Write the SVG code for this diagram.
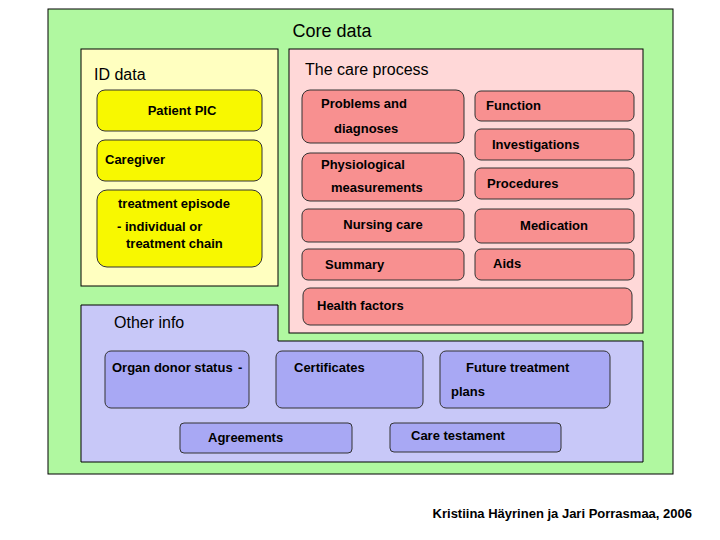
<svg xmlns="http://www.w3.org/2000/svg" width="720" height="540" viewBox="0 0 720 540">
<style>
text{font-family:"Liberation Sans",Arial,sans-serif;font-weight:bold;font-size:13px;fill:#000}
.big{font-size:16px;font-weight:normal}
.pan{stroke:#000;stroke-width:1}
.y{fill:#F8F800;stroke:#333;stroke-width:1}
.p{fill:#F89090;stroke:#333;stroke-width:1}
.b{fill:#A8A8F4;stroke:#333;stroke-width:1}
</style>
<rect width="720" height="540" fill="#fff"/>
<g id="core"><rect class="pan" x="48" y="9" width="625" height="465" fill="#B0F8A0"/><text class="big" x="332" y="37" text-anchor="middle" style="font-size:18px">Core data</text></g>
<g id="idpanel"><rect class="pan" x="81" y="49" width="197" height="237" fill="#FFFFC0"/><text class="big" x="94" y="80">ID data</text></g>
<g id="carepanel"><rect class="pan" x="289" y="49" width="354" height="284" fill="#FFD8D8"/><text class="big" x="305" y="75">The care process</text></g>
<g id="otherpanel"><path class="pan" d="M81,305 H278 V341 H643 V462 H81 Z" fill="#C8C8F8"/><text class="big" x="114" y="328">Other info</text></g>
<g id="n-pic"><rect class="y" x="97" y="90" width="165" height="41" rx="8"/><text x="182" y="115" text-anchor="middle">Patient PIC</text></g>
<g id="n-caregiver"><rect class="y" x="97" y="140" width="165" height="41" rx="8"/><text x="105" y="164">Caregiver</text></g>
<g id="n-episode"><rect class="y" x="97" y="190" width="165" height="77" rx="10"/><text x="118" y="208">treatment episode</text><text x="117" y="231">- individual or</text><text x="126" y="248">treatment chain</text></g>
<g id="n-problems"><rect class="p" x="302" y="90" width="162" height="53" rx="8"/><text x="321" y="108">Problems and</text><text x="334" y="133">diagnoses</text></g>
<g id="n-function"><rect class="p" x="475" y="91" width="159" height="30" rx="6"/><text x="486" y="110">Function</text></g>
<g id="n-invest"><rect class="p" x="475" y="129" width="159" height="31" rx="6"/><text x="492" y="149">Investigations</text></g>
<g id="n-physio"><rect class="p" x="302" y="153" width="162" height="48" rx="8"/><text x="321" y="169">Physiological</text><text x="331" y="192">measurements</text></g>
<g id="n-proc"><rect class="p" x="475" y="168" width="159" height="31" rx="6"/><text x="487" y="188">Procedures</text></g>
<g id="n-nursing"><rect class="p" x="302" y="209" width="162" height="33" rx="6"/><text x="383" y="229" text-anchor="middle">Nursing care</text></g>
<g id="n-med"><rect class="p" x="475" y="209" width="159" height="34" rx="6"/><text x="554" y="230" text-anchor="middle">Medication</text></g>
<g id="n-summary"><rect class="p" x="302" y="249" width="162" height="31" rx="6"/><text x="325" y="269">Summary</text></g>
<g id="n-aids"><rect class="p" x="475" y="249" width="159" height="31" rx="6"/><text x="493" y="268">Aids</text></g>
<g id="n-health"><rect class="p" x="303" y="288" width="329" height="37" rx="7"/><text x="317" y="310">Health factors</text></g>
<g id="n-organ"><rect class="b" x="105" y="351" width="144" height="57" rx="6"/><text x="112" y="372">Organ donor status</text><text x="238" y="372">-</text></g>
<g id="n-cert"><rect class="b" x="276" y="351" width="147" height="57" rx="6"/><text x="294" y="372">Certificates</text></g>
<g id="n-future"><rect class="b" x="440" y="351" width="170" height="57" rx="6"/><text x="466" y="372">Future treatment</text><text x="451" y="396">plans</text></g>
<g id="n-agree"><rect class="b" x="180" y="423" width="172" height="30" rx="4"/><text x="208" y="442">Agreements</text></g>
<g id="n-testament"><rect class="b" x="390" y="423" width="171" height="29" rx="4"/><text x="411" y="440">Care testament</text></g>
<g id="connectors"></g>
<text x="692" y="518" text-anchor="end">Kristiina Häyrinen ja Jari Porrasmaa, 2006</text>
</svg>
